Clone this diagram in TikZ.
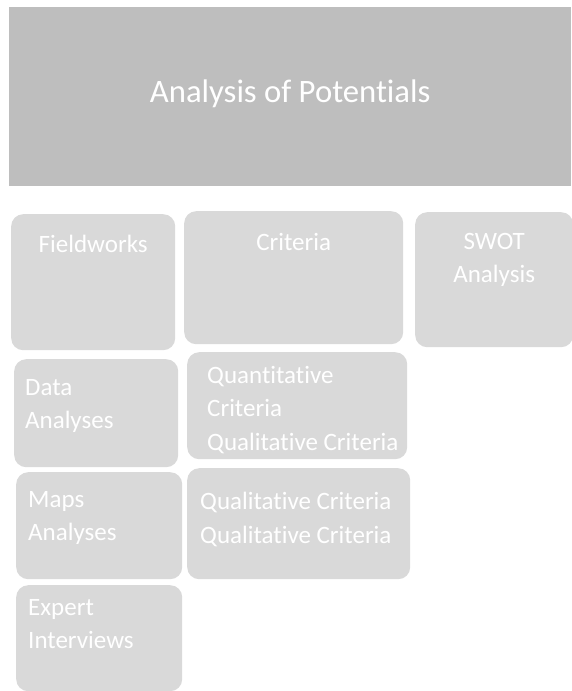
\documentclass[tikz,border=0pt]{standalone}
\usepackage{fontspec}
\setmainfont{Carlito}[Ligatures=NoCommon]
\definecolor{titlegray}{HTML}{BEBEBE}
\definecolor{boxgray}{HTML}{D9D9D9}
\begin{document}
\begin{tikzpicture}[x=1pt,y=-1pt,
  box/.style={fill=boxgray,rounded corners=12pt,anchor=north west,inner sep=0pt},
  txt/.style={text=white,inner sep=0pt,font=\fontsize{25}{33.5}\selectfont}]
\useasboundingbox (0,0) rectangle (571,691);
% header
\node[fill=titlegray,anchor=north west,inner sep=0pt,minimum width=562pt,minimum height=179pt] (title) at (9,7) {};
\node[text=white,font=\fontsize{32.7}{38}\selectfont] (ttext) at ([yshift=3pt]title.center) {Analysis of Potentials};
% top row
\node[box,minimum width=164pt,minimum height=136pt] (fw) at (11,214) {};
\node[box,minimum width=219pt,minimum height=133pt] (crit) at (184,211) {};
\node[box,minimum width=158pt,minimum height=135pt] (swot) at (415,212) {};
\node[txt,anchor=base] (fwtext) at ([yshift=-38pt]fw.north) {Fieldworks};
\node[txt,anchor=base] (crittext) at ([yshift=-39pt]crit.north) {Criteria};
\node[txt,align=center,anchor=north] (swottext) at ([yshift=-21pt]swot.north) {SWOT\\Analysis};
% left column
\node[box,minimum width=164pt,minimum height=108pt] (data) at (14,359) {};
\node[box,minimum width=166pt,minimum height=107pt] (maps) at (16,472) {};
\node[box,minimum width=166pt,minimum height=106pt] (expert) at (16,585) {};
\node[txt,align=left,anchor=north west] (datatext) at ([shift={(11,20)}]data.north west) {Data\\Analyses};
\node[txt,align=left,anchor=north west] (mapstext) at ([shift={(12,19)}]maps.north west) {Maps\\Analyses};
\node[txt,align=left,anchor=north west] (experttext) at ([shift={(12,14)}]expert.north west) {Expert\\Interviews};
% middle column
\node[box,minimum width=220pt,minimum height=107pt] (quant) at (187,352) {};
\node[box,minimum width=223pt,minimum height=111pt] (qual) at (187,468) {};
\node[txt,align=left,anchor=north west] (quanttext) at ([shift={(20,14)}]quant.north west) {Quantitative\\Criteria\\Qualitative Criteria};
\node[txt,align=left,anchor=north west] (qualtext) at ([shift={(13,24)}]qual.north west) {Qualitative Criteria\\Qualitative Criteria};
\end{tikzpicture}
\end{document}
